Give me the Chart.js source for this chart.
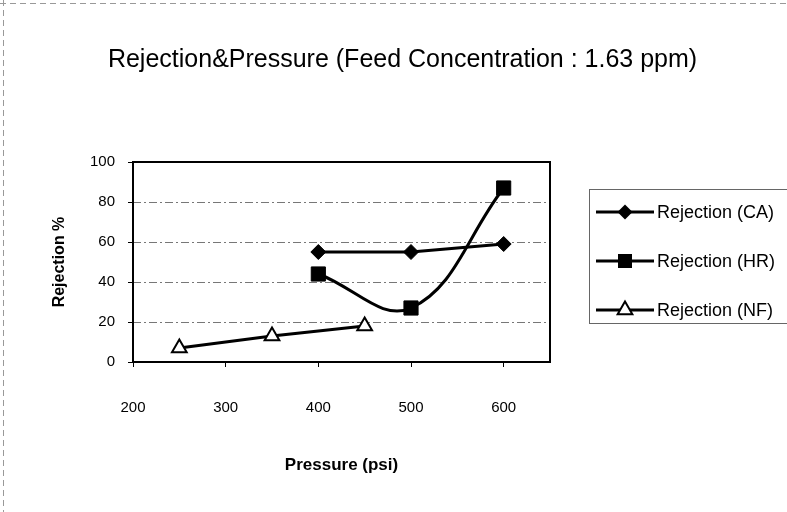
<!DOCTYPE html>
<html><head><meta charset="utf-8">
<script src="https://cdn.jsdelivr.net/npm/chart.js@4.4.0/dist/chart.umd.min.js"></script>
<style>html,body{margin:0;padding:0;background:#fff;overflow:hidden}canvas{display:block}</style>
</head><body>
<canvas id="c" width="787" height="512"></canvas>
<script>
const chartTitle = 'Rejection&Pressure (Feed Concentration : 1.63 ppm)';
const xTitle = 'Pressure (psi)';
const yTitle = 'Rejection %';
const seriesNames = ['Rejection (CA)', 'Rejection (HR)', 'Rejection (NF)'];
const caPressure = [400, 500, 600];
const caRejection = [55, 55, 59];
const hrPressure = [400, 500, 600];
const hrRejection = [44, 27, 87];
const nfPressure = [250, 350, 450];
const nfRejection = [7, 13, 18];
const xTickValues = [200, 300, 400, 500, 600];
const yTickValues = [0, 20, 40, 60, 80, 100];

const FONT = '"Liberation Sans", Arial, sans-serif';
const pts = (xs, ys) => xs.map((x, i) => ({x: x, y: ys[i]}));

function drawMarker(ctx, kind, cx, cy) {
  ctx.save();
  ctx.fillStyle = '#000'; ctx.strokeStyle = '#000'; ctx.lineWidth = 2;
  ctx.beginPath();
  if (kind === 'diamond') {
    const r = 7.5;
    ctx.moveTo(cx, cy - r); ctx.lineTo(cx + r, cy); ctx.lineTo(cx, cy + r); ctx.lineTo(cx - r, cy); ctx.closePath(); ctx.fill();
  } else if (kind === 'square') {
    ctx.rect(cx - 7, cy - 7, 14, 14); ctx.fill();
  } else {
    const r = 8.5;
    for (let k = 0; k < 3; k++) {
      const a = -Math.PI / 2 + k * 2 * Math.PI / 3;
      const px = cx + r * Math.cos(a), py = cy + r * Math.sin(a);
      if (k === 0) ctx.moveTo(px, py); else ctx.lineTo(px, py);
    }
    ctx.closePath(); ctx.fillStyle = '#fff'; ctx.fill(); ctx.stroke();
  }
  ctx.restore();
}

const decor = {
  id: 'decor',
  beforeDraw(chart) {
    const ctx = chart.ctx;
    ctx.save(); ctx.fillStyle = '#fff'; ctx.fillRect(0, 0, chart.width, chart.height); ctx.restore();
  },
  beforeDatasetsDraw(chart) {
    const {ctx, chartArea: a} = chart;
    ctx.save(); ctx.strokeStyle = '#000'; ctx.lineWidth = 2;
    ctx.strokeRect(a.left, a.top, a.right - a.left, a.bottom - a.top);
    ctx.restore();
  },
  afterDraw(chart) {
    const ctx = chart.ctx;
    ctx.save();
    // page frame (dashed, faint)
    ctx.strokeStyle = '#999'; ctx.lineWidth = 1; ctx.setLineDash([6, 4]);
    ctx.beginPath(); ctx.moveTo(0, 3.5); ctx.lineTo(787, 3.5); ctx.moveTo(3.5, 0); ctx.lineTo(3.5, 512); ctx.stroke();
    ctx.setLineDash([]);
    // title
    ctx.fillStyle = '#000'; ctx.font = '25px ' + FONT; ctx.textAlign = 'center'; ctx.textBaseline = 'alphabetic';
    ctx.fillText(chartTitle, 402.5, 67);
    // legend box
    ctx.strokeStyle = '#666'; ctx.lineWidth = 1;
    ctx.strokeRect(589.5, 189.5, 210, 134);
    const kinds = ['diamond', 'square', 'triangle'];
    const ys = [212, 261, 310];
    ctx.font = '18px ' + FONT; ctx.textAlign = 'left'; ctx.textBaseline = 'middle';
    for (let i = 0; i < 3; i++) {
      ctx.strokeStyle = '#000'; ctx.lineWidth = 3;
      ctx.beginPath(); ctx.moveTo(596, ys[i]); ctx.lineTo(654, ys[i]); ctx.stroke();
      drawMarker(ctx, kinds[i], 625, ys[i]);
      ctx.fillStyle = '#000';
      ctx.fillText(seriesNames[i], 657, ys[i] + 1);
    }
    ctx.restore();
  }
};

new Chart(document.getElementById('c'), {
  type: 'scatter',
  data: {
    datasets: [
      {label: seriesNames[0], data: pts(caPressure, caRejection), showLine: true, tension: 0,
       borderColor: '#000', borderWidth: 3, pointStyle: 'rectRot', pointRadius: 7.5,
       pointBackgroundColor: '#000', pointBorderColor: '#000', pointBorderWidth: 1},
      {label: seriesNames[1], data: pts(hrPressure, hrRejection), showLine: true, tension: 0.4,
       borderColor: '#000', borderWidth: 3, pointStyle: 'rect', pointRadius: 10,
       pointBackgroundColor: '#000', pointBorderColor: '#000', pointBorderWidth: 1},
      {label: seriesNames[2], data: pts(nfPressure, nfRejection), showLine: true, tension: 0,
       borderColor: '#000', borderWidth: 3, pointStyle: 'triangle', pointRadius: 8.5,
       pointBackgroundColor: '#fff', pointBorderColor: '#000', pointBorderWidth: 2}
    ]
  },
  options: {
    responsive: false, animation: false, devicePixelRatio: 1,
    layout: {padding: {left: 0, right: 237, top: 162, bottom: 0}},
    plugins: {legend: {display: false}, title: {display: false}, tooltip: {enabled: false}},
    scales: {
      x: {
        type: 'linear', min: 200, max: 650,
        afterFit(s) { s.height = 150; },
        afterBuildTicks(s) { s.ticks = xTickValues.map(v => ({value: v})); },
        grid: {drawOnChartArea: false, tickLength: 5, tickColor: '#000', tickWidth: 1},
        border: {display: false},
        ticks: {padding: 32, color: '#000', font: {family: FONT, size: 15}, maxRotation: 0},
        title: {display: true, text: xTitle, color: '#000', font: {family: FONT, size: 17, weight: 'bold'}, padding: {top: 0, bottom: 36}}
      },
      y: {
        min: 0, max: 100,
        afterFit(s) { s.width = 133; },
        afterBuildTicks(s) { s.ticks = yTickValues.map(v => ({value: v})); },
        grid: {color: (c) => (c.tick && (c.tick.value === 0 || c.tick.value === 100)) ? 'rgba(0,0,0,0)' : '#777',
               lineWidth: 1, tickLength: 5, tickColor: '#000', tickWidth: 1},
        border: {display: false, dash: [8, 3, 2, 3]},
        ticks: {padding: 13, color: '#000', font: {family: FONT, size: 15}},
        title: {display: true, text: yTitle, color: '#000', font: {family: FONT, size: 16, weight: 'bold'}, padding: {top: 50, bottom: 0}}
      }
    }
  },
  plugins: [decor]
});
</script>
</body></html>
